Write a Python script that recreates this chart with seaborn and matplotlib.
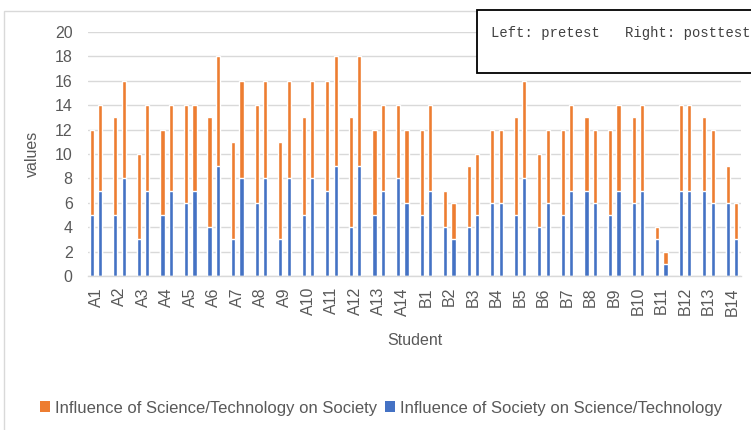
import matplotlib
matplotlib.use("Agg")
import matplotlib.pyplot as plt
import seaborn as sns
import pandas as pd
from matplotlib.patches import Patch, Rectangle

students = ["A1", "A2", "A3", "A4", "A5", "A6", "A7", "A8", "A9", "A10", "A11", "A12", "A13", "A14",
            "B1", "B2", "B3", "B4", "B5", "B6", "B7", "B8", "B9", "B10", "B11", "B12", "B13", "B14"]
# Influence of Society on Science/Technology (blue, bottom)
soc_pre = [5, 5, 3, 5, 6, 4, 3, 6, 3, 5, 7, 4, 5, 8,
           5, 4, 4, 6, 5, 4, 5, 7, 5, 6, 3, 7, 7, 6]
soc_post = [7, 8, 7, 7, 7, 9, 8, 8, 8, 8, 9, 9, 7, 6,
            7, 3, 5, 6, 8, 6, 7, 6, 7, 7, 1, 7, 6, 3]
# Influence of Science/Technology on Society (orange, top)
sci_pre = [7, 8, 7, 7, 8, 9, 8, 8, 8, 8, 9, 9, 7, 6,
           7, 3, 5, 6, 8, 6, 7, 6, 7, 7, 1, 7, 6, 3]
sci_post = [7, 8, 7, 7, 7, 9, 8, 8, 8, 8, 9, 9, 7, 6,
            7, 3, 5, 6, 8, 6, 7, 6, 7, 7, 1, 7, 6, 3]
tests = ["pretest", "posttest"]
series_labels = ["Influence of Science/Technology on Society",
                 "Influence of Society on Science/Technology"]

ORANGE = "#ED7D31"
BLUE = "#4472C4"
GRAY = "#595959"
GRID = "#D9D9D9"

rows = []
for i, s in enumerate(students):
    rows.append(dict(student=s, test="pretest", society=soc_pre[i], science=sci_pre[i]))
    rows.append(dict(student=s, test="posttest", society=soc_post[i], science=sci_post[i]))
df = pd.DataFrame(rows)
df["total"] = df["society"] + df["science"]

sns.set_theme(style="white")
plt.rcParams["font.family"] = ["Liberation Sans", "DejaVu Sans"]

fig = plt.figure(figsize=(7.51, 4.30), dpi=100)
W, H = 751, 430
ax = fig.add_axes([88 / W, 1 - 276 / H, 653 / W, 244 / H])

common = dict(data=df, x="student", hue="test", hue_order=tests, order=students,
              width=0.713, gap=0.5, saturation=1, legend=False, ax=ax, errorbar=None)
sns.barplot(y="total", palette=[ORANGE, ORANGE], **common)
sns.barplot(y="society", palette=[BLUE, BLUE], **common)

ax.set_xlim(-0.34, 27.38)
ax.set_ylim(0, 20)
ax.set_yticks(range(0, 21, 2))
ax.grid(axis="y", color=GRID, linewidth=1)
ax.set_axisbelow(True)
for sp in ["left", "top", "right"]:
    ax.spines[sp].set_visible(False)
ax.spines["bottom"].set_color(GRID)
ax.spines["bottom"].set_linewidth(1)
ax.tick_params(axis="both", length=0, labelsize=11.5, colors=GRAY)
ax.tick_params(axis="y", pad=11)
ax.tick_params(axis="x", pad=8, rotation=90)

ax.set_ylabel("values", fontsize=11.5, color=GRAY)
ax.set_xlabel("Student", fontsize=11.5, color=GRAY)
ax.yaxis.set_label_coords((40 - 88) / 653, 0.5)
ax.xaxis.set_label_coords(0.5, (276 - 333) / 244)

# chart outer border
fig.add_artist(Rectangle((4 / W, -0.1), 1.2, 1 - 11 / H + 0.1, transform=fig.transFigure,
                         fill=False, edgecolor=GRID, linewidth=1))

# annotation box
fig.add_artist(Rectangle((477 / W, 1 - 73 / H), 0.5, 63 / H, transform=fig.transFigure,
                         facecolor="white", edgecolor="black", linewidth=1.3, zorder=5))
fig.text(491 / W, 1 - 33 / H, "Left: pretest   Right: posttest", fontsize=10,
         family=["Liberation Mono", "DejaVu Sans Mono"], color="#404040",
         ha="left", va="center", zorder=6)

handles = [Patch(facecolor=ORANGE, edgecolor="none"), Patch(facecolor=BLUE, edgecolor="none")]
leg = fig.legend(handles, series_labels, loc="center left",
                 bbox_to_anchor=(40 / W, 1 - 408 / H), ncol=2, frameon=False,
                 fontsize=12, handlelength=0.6, handleheight=0.6, handletextpad=0.3,
                 columnspacing=0.5, borderpad=0, borderaxespad=0)
for t in leg.get_texts():
    t.set_color(GRAY)

fig.savefig("out.png", dpi=100)
